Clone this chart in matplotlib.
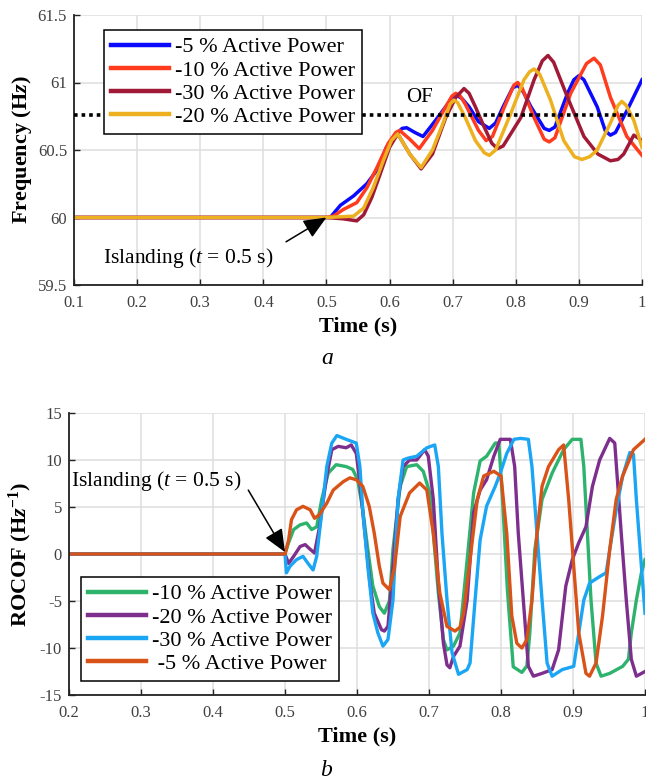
import matplotlib
matplotlib.use("Agg")
import matplotlib.pyplot as plt

plt.rcParams['font.family'] = ['Liberation Serif', 'DejaVu Serif']
plt.rcParams['mathtext.fontset'] = 'custom'
plt.rcParams['mathtext.rm'] = 'Liberation Serif'
plt.rcParams['mathtext.it'] = 'Liberation Serif:italic'
plt.rcParams['mathtext.bf'] = 'Liberation Serif:bold'
plt.rcParams['mathtext.bfit'] = 'Liberation Serif:italic:bold'
plt.rcParams['axes.unicode_minus'] = False

# ---------------- Panel a : Frequency ----------------
t_b5 = [0.1, 0.5, 0.506, 0.522, 0.543, 0.564, 0.58, 0.595, 0.611, 0.62, 0.627, 0.64, 0.653, 0.673, 0.692,
        0.701, 0.707, 0.715, 0.726, 0.741, 0.758, 0.768, 0.78, 0.795, 0.803, 0.812, 0.824, 0.845, 0.853,
        0.862, 0.882, 0.892, 0.9, 0.908, 0.929, 0.942, 0.95, 0.958, 0.976, 1.0]
f_b5 = [60, 60, 60.0, 60.09, 60.16, 60.25, 60.35, 60.52, 60.62, 60.66, 60.665, 60.63, 60.6, 60.72, 60.84,
        60.89, 60.905, 60.88, 60.82, 60.71, 60.66, 60.7, 60.82, 60.96, 60.98, 60.93, 60.82, 60.66, 60.645,
        60.67, 60.92, 61.02, 61.05, 61.02, 60.82, 60.64, 60.61, 60.63, 60.79, 61.02]

t_r10 = [0.1, 0.5, 0.511, 0.527, 0.548, 0.564, 0.58, 0.598, 0.61, 0.616, 0.632, 0.647, 0.668, 0.689,
         0.699, 0.705, 0.712, 0.72, 0.741, 0.753, 0.763, 0.782, 0.797, 0.803, 0.81, 0.829, 0.845, 0.853,
         0.862, 0.887, 0.912, 0.924, 0.934, 0.95, 0.976, 1.0]
f_r10 = [60, 60, 60.01, 60.06, 60.11, 60.22, 60.37, 60.55, 60.63, 60.645, 60.58, 60.51, 60.645, 60.82,
         60.9, 60.92, 60.9, 60.84, 60.645, 60.57, 60.6, 60.82, 60.98, 61.0, 60.96, 60.74, 60.58, 60.56,
         60.59, 60.92, 61.14, 61.18, 61.13, 60.89, 60.6, 60.46]

t_d30 = [0.1, 0.5, 0.527, 0.548, 0.559, 0.572, 0.585, 0.6, 0.613, 0.632, 0.65, 0.668, 0.689, 0.705,
         0.718, 0.726, 0.736, 0.75, 0.762, 0.771, 0.78, 0.808, 0.829, 0.842, 0.851, 0.86, 0.882, 0.908,
         0.93, 0.95, 0.962, 0.971, 0.987, 1.0]
f_d30 = [60, 60, 59.99, 59.975, 60.02, 60.15, 60.32, 60.52, 60.62, 60.47, 60.36, 60.47, 60.74, 60.89,
         60.955, 60.92, 60.82, 60.67, 60.55, 60.51, 60.53, 60.74, 61.02, 61.16, 61.2, 61.15, 60.89, 60.6,
         60.47, 60.42, 60.43, 60.47, 60.61, 60.57]

t_y20 = [0.1, 0.5, 0.543, 0.559, 0.574, 0.59, 0.603, 0.613, 0.632, 0.65, 0.668, 0.684, 0.696, 0.702,
         0.708, 0.72, 0.736, 0.75, 0.758, 0.768, 0.792, 0.813, 0.822, 0.829, 0.838, 0.855, 0.876, 0.893,
         0.905, 0.917, 0.929, 0.95, 0.962, 0.968, 0.975, 0.987, 1.0]
f_y20 = [60, 60, 60.01, 60.07, 60.22, 60.42, 60.57, 60.62, 60.47, 60.37, 60.5, 60.69, 60.84, 60.87,
         60.85, 60.74, 60.57, 60.48, 60.46, 60.5, 60.77, 61.02, 61.08, 61.1, 61.06, 60.87, 60.57, 60.45,
         60.43, 60.45, 60.5, 60.7, 60.83, 60.86, 60.83, 60.72, 60.52]

of_level = 60.76

labels_a = ['-5 % Active Power', '-10 % Active Power', '-30 % Active Power', '-20 % Active Power']
colors_a = ['#0a0aff', '#ff3c1e', '#a01a38', '#edb120']

xt_a = [0.1, 0.2, 0.3, 0.4, 0.5, 0.6, 0.7, 0.8, 0.9, 1.0]
xtl_a = ['0.1', '0.2', '0.3', '0.4', '0.5', '0.6', '0.7', '0.8', '0.9', '1']
yt_a = [59.5, 60, 60.5, 61, 61.5]
ytl_a = ['59.5', '60', '60.5', '61', '61.5']

# ---------------- Panel b : ROCOF ----------------
t_g10 = [0.2, 0.5, 0.505, 0.512, 0.521, 0.53, 0.537, 0.544, 0.551, 0.56, 0.571, 0.585, 0.594, 0.601, 0.608,
         0.615, 0.622, 0.631, 0.638, 0.645, 0.65, 0.66, 0.669, 0.683, 0.692, 0.701, 0.706, 0.713, 0.72,
         0.725, 0.734, 0.743, 0.753, 0.762, 0.771, 0.78, 0.792, 0.797, 0.802, 0.809, 0.817, 0.829, 0.836,
         0.84, 0.847, 0.857, 0.871, 0.887, 0.899, 0.911, 0.915, 0.92, 0.925, 0.932, 0.939, 0.951, 0.969,
         0.977, 0.981, 0.988, 0.995, 1.0]
v_g10 = [0, 0, 1.2, 2.6, 3.1, 3.3, 2.6, 2.9, 5.8, 8.6, 9.5, 9.3, 9.0, 7.9, 4.7,
         0.5, -3.4, -5.6, -6.3, -5.0, 0.5, 7.2, 9.3, 9.5, 8.8, 6.5, 2.2, -4.15, -9.1,
         -10.2, -9.8, -8.4, -0.6, 6.5, 9.9, 10.4, 11.8, 11.8, 6.0, -4.0, -12.0, -12.6, -11.9,
         -8.4, 0.46, 5.8, 8.6, 11.1, 12.2, 12.2, 9.3, 2.2, -4.9, -11.6, -13.0, -12.7, -11.95,
         -11.2, -8.4, -4.9, -2.0, -0.6]

t_p20 = [0.2, 0.5, 0.505, 0.512, 0.521, 0.528, 0.535, 0.541, 0.548, 0.558, 0.565, 0.574, 0.585, 0.592,
         0.599, 0.604, 0.611, 0.618, 0.624, 0.634, 0.638, 0.643, 0.65, 0.657, 0.664, 0.673, 0.683, 0.694,
         0.699, 0.706, 0.713, 0.72, 0.725, 0.729, 0.734, 0.743, 0.753, 0.762, 0.771, 0.78, 0.79, 0.799,
         0.813, 0.819, 0.824, 0.831, 0.838, 0.845, 0.857, 0.871, 0.88, 0.89, 0.899, 0.908, 0.918, 0.927,
         0.937, 0.951, 0.958, 0.962, 0.967, 0.974, 0.981, 0.988, 1.0]
v_p20 = [0, 0, -1.0, -0.25, 0.8, 1.0, 0.5, 0.1, 2.9, 8.3, 11.1, 11.45, 11.3, 11.6,
         10.7, 7.55, 2.2, -3.1, -6.3, -8.05, -8.2, -7.7, -1.3, 5.8, 9.3, 10.0, 10.0, 11.1,
         10.4, 5.8, -3.1, -9.5, -11.8, -12.1, -10.9, -9.8, -4.9, 4.4, 6.8, 7.9, 10.4, 12.2,
         12.2, 9.3, 2.2, -4.9, -11.95, -13.0, -12.7, -12.3, -10.2, -3.4, -0.6, 1.2, 2.9, 7.2,
         10.0, 12.3, 11.8, 7.55, 2.2, -4.9, -11.2, -13.0, -12.5]

t_c30 = [0.2, 0.5, 0.502, 0.507, 0.516, 0.525, 0.532, 0.539, 0.544, 0.551, 0.558, 0.565, 0.572, 0.585,
         0.599, 0.604, 0.608, 0.615, 0.622, 0.629, 0.636, 0.643, 0.65, 0.657, 0.664, 0.671, 0.683, 0.697,
         0.708, 0.713, 0.718, 0.725, 0.732, 0.741, 0.753, 0.757, 0.764, 0.771, 0.78, 0.792, 0.799, 0.808,
         0.818, 0.827, 0.838, 0.843, 0.85, 0.857, 0.864, 0.871, 0.885, 0.901, 0.908, 0.915, 0.923, 0.937,
         0.946, 0.951, 0.96, 0.969, 0.979, 0.984, 0.988, 0.995, 1.0]
v_c30 = [0, 0, -2.0, -1.3, -0.6, -0.25, -1.0, -1.7, -0.25, 4.4, 9.3, 11.8, 12.6, 12.2,
         11.8, 9.3, 4.7, -1.3, -6.3, -8.4, -9.8, -9.1, -4.9, 5.8, 10.0, 10.2, 10.4, 11.3,
         11.6, 9.3, 2.2, -4.9, -10.5, -12.8, -12.3, -11.6, -4.9, 1.5, 5.1, 7.2, 8.6, 10.7,
         12.2, 12.3, 12.2, 9.3, 2.2, -4.9, -11.6, -13.0, -12.3, -11.95, -8.4, -4.9, -3.1, -2.4,
         -2.0, 0.46, 4.7, 8.3, 10.8, 10.6, 5.8, -1.3, -6.3]

t_o5 = [0.2, 0.5, 0.505, 0.509, 0.516, 0.525, 0.535, 0.541, 0.548, 0.558, 0.567, 0.581, 0.59, 0.599,
        0.608, 0.617, 0.624, 0.631, 0.636, 0.645, 0.652, 0.66, 0.673, 0.687, 0.697, 0.706, 0.715, 0.725,
        0.736, 0.743, 0.748, 0.757, 0.767, 0.776, 0.79, 0.8, 0.808, 0.815, 0.822, 0.829, 0.836, 0.843,
        0.85, 0.857, 0.866, 0.88, 0.887, 0.894, 0.901, 0.908, 0.918, 0.923, 0.932, 0.941, 0.951, 0.96,
        0.969, 0.984, 1.0]
v_o5 = [0, 0, 1.5, 3.65, 4.7, 5.07, 4.7, 3.8, 4.2, 5.4, 6.8, 7.7, 8.1, 7.9,
        7.2, 5.07, 2.2, -1.3, -3.1, -3.8, -1.5, 4.0, 6.5, 7.55, 6.8, 2.2, -4.15, -7.7,
        -8.2, -7.8, -6.3, -0.6, 5.8, 8.3, 8.8, 8.3, 2.2, -6.6, -9.5, -10.0, -9.1, -4.9,
        2.2, 7.2, 9.3, 11.1, 11.6, 5.8, -1.3, -8.4, -12.7, -13.0, -11.6, -6.6, 0.46, 5.8,
        8.3, 11.1, 12.2]

labels_b = ['-10 % Active Power', '-20 % Active Power', '-30 % Active Power', ' -5 % Active Power']
colors_b = ['#2eb36e', '#7e2f8e', '#1aa6f5', '#d95319']

xt_b = [0.2, 0.3, 0.4, 0.5, 0.6, 0.7, 0.8, 0.9, 1.0]
xtl_b = ['0.2', '0.3', '0.4', '0.5', '0.6', '0.7', '0.8', '0.9', '1']
yt_b = [-15, -10, -5, 0, 5, 10, 15]
ytl_b = ['-15', '-10', '-5', '0', '5', '10', '15']

# ---------------- Figure ----------------
W, H = 646, 782
fig = plt.figure(figsize=(W / 100, H / 100), dpi=100)
ax1 = fig.add_axes([74 / W, 1 - 285 / H, 568 / W, 270 / H])
ax2 = fig.add_axes([69 / W, 1 - 695 / H, 576 / W, 282 / H])

tick_color = '#404040'
grid_color = '#dedede'


def style(ax):
    for s in ['top', 'right']:
        ax.spines[s].set_visible(False)
    for s in ['left', 'bottom']:
        ax.spines[s].set_linewidth(1.3)
        ax.spines[s].set_color('#222222')
    ax.grid(True, color=grid_color, lw=1.1)
    ax.set_axisbelow(True)
    ax.tick_params(direction='in', length=4, width=1, colors='#222222', labelcolor=tick_color,
                   labelsize=12)
    ax.tick_params(axis='x', pad=7)
    ax.tick_params(axis='y', pad=5)


style(ax1)
series_a = [(t_b5, f_b5), (t_r10, f_r10), (t_d30, f_d30), (t_y20, f_y20)]
for (tt, ff), c, lab in zip(series_a, colors_a, labels_a):
    ax1.plot(tt, ff, color=c, lw=2.5, label=lab, solid_joinstyle='round')
ax1.axhline(of_level, color='k', lw=2.6, ls=(0, (1, 1.1)), zorder=5)
ax1.text(0.647, 60.89, 'OF', fontsize=15, ha='center', va='center')
ax1.set_xlim(0.1, 1.0)
ax1.set_ylim(59.5, 61.5)
ax1.set_xticks(xt_a, xtl_a)
ax1.set_yticks(yt_a, ytl_a)
ax1.set_xlabel('Time (s)', fontsize=16, fontweight='bold', labelpad=4)
ax1.set_ylabel(r'Frequency (H$\mathbfit{z}$)', fontsize=16, fontweight='bold', labelpad=3)
ax1.text(0.146, 59.70, r'Islanding ($t$ = 0.5 s)', fontsize=15.5, ha='left', va='center')
ax1.annotate('', xy=(0.5, 60.0), xytext=(0.436, 59.82),
             arrowprops=dict(arrowstyle='-|>,head_length=0.7,head_width=0.3', color='k', lw=1.1,
                             shrinkA=0, shrinkB=0, mutation_scale=20))
leg1 = ax1.legend(loc='upper left', bbox_to_anchor=(0.053, 0.944), fontsize=16, frameon=True,
                  fancybox=False, edgecolor='k', framealpha=1, borderaxespad=0, handlelength=2.6,
                  handletextpad=0.3, labelspacing=0.12, borderpad=0.3)
leg1.get_frame().set_linewidth(1.1)
for ln in leg1.get_lines():
    ln.set_linewidth(3.2)

style(ax2)
series_b = [(t_g10, v_g10), (t_p20, v_p20), (t_c30, v_c30), (t_o5, v_o5)]
for (tt, vv), c, lab in zip(series_b, colors_b, labels_b):
    ax2.plot(tt, vv, color=c, lw=2.4, label=lab, solid_joinstyle='round')
ax2.set_xlim(0.2, 1.0)
ax2.set_ylim(-15, 15)
ax2.set_xticks(xt_b, xtl_b)
ax2.set_yticks(yt_b, ytl_b)
ax2.set_xlabel('Time (s)', fontsize=16, fontweight='bold', labelpad=4)
ax2.set_ylabel(r'ROCOF (H$\mathbfit{z}^{\mathbf{-1}}$)', fontsize=16, fontweight='bold', labelpad=4)
ax2.text(0.203, 7.8, r'Islanding ($t$ = 0.5 s)', fontsize=15.5, ha='left', va='center')
ax2.annotate('', xy=(0.5, 0.2), xytext=(0.449, 6.8),
             arrowprops=dict(arrowstyle='-|>,head_length=0.7,head_width=0.3', color='k', lw=1.1,
                             shrinkA=0, shrinkB=0, mutation_scale=20))
leg2 = ax2.legend(loc='upper left', bbox_to_anchor=(0.021, 0.418), fontsize=16, frameon=True,
                  fancybox=False, edgecolor='k', framealpha=1, borderaxespad=0, handlelength=2.6,
                  handletextpad=0.3, labelspacing=0.12, borderpad=0.3)
leg2.get_frame().set_linewidth(1.1)
for ln in leg2.get_lines():
    ln.set_linewidth(3.2)

fig.text(327 / W, 1 - 358 / H, 'a', fontsize=17, style='italic', ha='center', va='center')
fig.text(326 / W, 1 - 770 / H, 'b', fontsize=17, style='italic', ha='center', va='center')

fig.savefig('out.png', dpi=100)
